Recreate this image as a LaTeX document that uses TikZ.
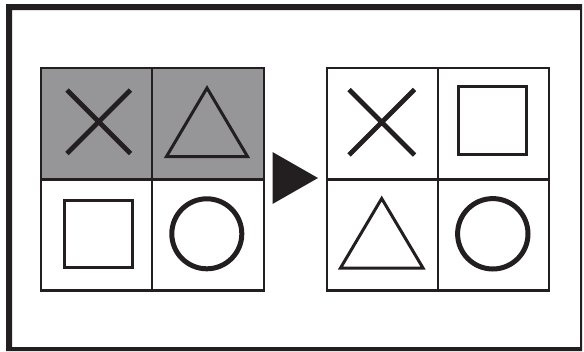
\documentclass[tikz,border=0pt]{standalone}
\definecolor{inkc}{RGB}{35,31,32}
\definecolor{shadec}{RGB}{150,150,153}
\begin{document}
\begin{tikzpicture}[x=1pt,y=-1pt,
  ink/.style={draw=inkc},
  gridline/.style={ink,line width=2.3pt},
  shadecell/.style={fill=shadec},
  xmark/.style={ink,line width=4.7pt},
  trimark/.style={ink,line width=3pt,line join=miter},
  sqmark/.style={ink,line width=3pt},
  circmark/.style={ink,line width=5pt},
  arrowhead/.style={fill=inkc}]
\useasboundingbox (0,0) rectangle (584,351);
% frame
\fill[inkc,even odd rule] (6,4) rectangle (582,351) (12,10) rectangle (580,347);
% left grid
\fill[shadecell] (41,68) rectangle (264,179.5);
\draw[gridline] (41,68) rectangle (264,290.5);
\draw[gridline] (152,68) -- (152,290.5);
\draw[gridline] (41,179.5) -- (264,179.5);
% right grid
\draw[gridline] (327,68) rectangle (549,290.5);
\draw[gridline] (438,68) -- (438,290.5);
\draw[gridline] (327,179.5) -- (549,179.5);
% arrow
\fill[arrowhead] (272.5,152) -- (318,178) -- (272.5,204) -- cycle;
% left shapes
\draw[xmark] (67,90) -- (130.5,153.5) (67,153.5) -- (130.5,90);
\draw[trimark] (207,88) -- (247.5,156.5) -- (166.5,156.5) -- cycle;
\draw[sqmark] (64.3,200.5) rectangle (132.2,267.8);
\draw[circmark] (206.8,233.8) circle (35);
% right shapes
\draw[xmark] (349,89.5) -- (414.5,155) (349,155) -- (414.5,89.5);
\draw[sqmark] (458.5,86.5) rectangle (526.5,154.2);
\draw[trimark] (381.7,198.5) -- (423,268) -- (340.5,268) -- cycle;
\draw[circmark] (492.8,233.8) circle (35.2);
\end{tikzpicture}
\end{document}
